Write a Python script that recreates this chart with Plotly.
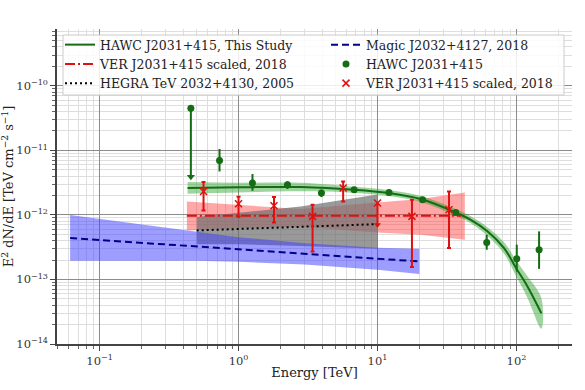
import plotly.graph_objects as go
import numpy as np

# ---------------- data ----------------
# HAWC J2031+415 fit line and uncertainty band
hawc_fit_e = [0.43, 1.0, 2.8, 6.8, 12.1, 20.5, 36.5, 46.9, 61.8, 81.4, 100, 120, 151]
hawc_fit_f = [2.61e-12, 2.68e-12, 2.70e-12, 2.46e-12, 2.18e-12, 1.76e-12, 1.09e-12,
              8.4e-13, 5.6e-13, 3.07e-13, 1.47e-13, 7.8e-14, 3.0e-14]
hawc_band_hi = [3.23e-12, 3.16e-12, 3.15e-12, 2.73e-12, 2.43e-12, 1.96e-12, 1.23e-12,
                9.5e-13, 6.47e-13, 3.78e-13, 1.95e-13, 1.12e-13, 5.17e-14]
hawc_band_lo = [2.13e-12, 2.22e-12, 2.33e-12, 2.21e-12, 1.96e-12, 1.58e-12, 9.7e-13,
                7.44e-13, 4.77e-13, 2.51e-13, 1.10e-13, 5.17e-14, 1.73e-14]

# HAWC flux points
hawc_e = [0.73, 1.26, 2.25, 3.95, 6.79, 12.1, 21.1, 36.6, 61.1, 100.5, 145.5]
hawc_f = [6.98e-12, 3.12e-12, 2.93e-12, 2.18e-12, 2.46e-12, 2.23e-12, 1.72e-12,
          1.09e-12, 3.75e-13, 2.1e-13, 2.89e-13]
hawc_hi = [1.05e-11, 4.3e-12, 3.3e-12, 2.46e-12, 2.6e-12, 2.35e-12, 1.82e-12,
           1.15e-12, 4.93e-13, 3.46e-13, 5.56e-13]
hawc_lo = [4.72e-12, 2.37e-12, 2.52e-12, 1.89e-12, 2.33e-12, 2.11e-12, 1.62e-12,
           1.03e-12, 2.89e-13, 1.33e-13, 1.46e-13]
# HAWC upper limit
hawc_ul_e = [0.454]
hawc_ul_f = [4.5e-11]
hawc_ul_to = [3.9e-12]

# VER J2031+415 scaled, 2018
ver_e = [0.56, 1.0, 1.80, 3.41, 5.66, 17.7, 32.7]
ver_f = [2.31e-12, 1.49e-12, 1.39e-12, 9.5e-13, 2.61e-12, 9.5e-13, 1.2e-12]
ver_hi = [3.23e-12, 1.91e-12, 1.9e-12, 1.44e-12, 3.3e-12, 1.72e-12, 2.31e-12]
ver_lo = [1.17e-12, 9.4e-13, 7.66e-13, 2.72e-13, 1.62e-12, 1.56e-13, 3.07e-13]
ver_ul_e = [10.0]
ver_ul_f = [1.53e-12]
ver_ul_to = [7.05e-13]
ver_line_e = [0.425, 40.0]
ver_line_f = [9.7e-13, 9.7e-13]
ver_band_e = [0.425, 1.0, 2.8, 10.0, 20.5, 42.5]
ver_band_hi = [1.62e-12, 1.43e-12, 1.23e-12, 1.56e-12, 1.76e-12, 2.23e-12]
ver_band_lo = [5.75e-13, 6.2e-13, 6.56e-13, 5.36e-13, 4.93e-13, 4.13e-13]

# HEGRA TeV 2032+4130, 2005
hegra_line_e = [0.5, 10.0]
hegra_line_f = [5.75e-13, 7.2e-13]
hegra_band_e = [0.5, 1.0, 2.8, 10.0]
hegra_band_hi = [9.3e-13, 1.08e-12, 1.35e-12, 2.07e-12]
hegra_band_lo = [3.5e-13, 3.5e-13, 3.3e-13, 3.0e-13]

# Magic J2032+4127, 2018
magic_line_e = [0.0614, 20.0]
magic_line_f = [4.39e-13, 1.9e-13]
magic_band_e = [0.0614, 0.5, 1.0, 3.0, 10.0, 20.0]
magic_band_hi = [1.0e-12, 5.4e-13, 4.52e-13, 3.65e-13, 3.1e-13, 3.0e-13]
magic_band_lo = [1.95e-13, 1.95e-13, 1.88e-13, 1.7e-13, 1.42e-13, 1.22e-13]

# ticks
x_tickvals = [0.1, 1, 10, 100]
x_ticktext = ["10<sup>−1</sup>", "10<sup>0</sup>", "10<sup>1</sup>", "10<sup>2</sup>"]
y_tickvals = [1e-14, 1e-13, 1e-12, 1e-11, 1e-10]
y_ticktext = ["10<sup>−14</sup>", "10<sup>−13</sup>", "10<sup>−12</sup>",
              "10<sup>−11</sup>", "10<sup>−10</sup>"]

# ---------------- styling ----------------
FONT = "DejaVu Serif"
GREEN = "#146c14"
RED = "#e01010"
BLUE = "#00008b"


def band(e, hi, lo, fill, shape="linear"):
    xs = list(e) + list(e)[::-1]
    ys = list(hi) + list(lo)[::-1]
    return go.Scatter(x=xs, y=ys, mode="lines", fill="toself", fillcolor=fill,
                      line=dict(width=0, shape=shape), hoverinfo="skip", showlegend=False)


fig = go.Figure()

# bands
fig.add_trace(band(ver_band_e, ver_band_hi, ver_band_lo, "rgba(255,60,60,0.45)"))
fig.add_trace(band(hegra_band_e, hegra_band_hi, hegra_band_lo, "rgba(110,110,110,0.7)"))
fig.add_trace(band(magic_band_e, magic_band_hi, magic_band_lo, "rgba(60,60,255,0.5)"))
fig.add_trace(band(hawc_fit_e, hawc_band_hi, hawc_band_lo, "rgba(40,160,40,0.45)", "spline"))

# lines
fig.add_trace(go.Scatter(x=hawc_fit_e, y=hawc_fit_f, mode="lines",
                         line=dict(color=GREEN, width=2, shape="spline"),
                         name="HAWC J2031+415, This Study", legend="legend", legendrank=1))
fig.add_trace(go.Scatter(x=ver_line_e, y=ver_line_f, mode="lines",
                         line=dict(color=RED, width=2, dash="10px,3px,2px,3px"),
                         name="VER J2031+415 scaled, 2018", legend="legend", legendrank=2))
fig.add_trace(go.Scatter(x=hegra_line_e, y=hegra_line_f, mode="lines",
                         line=dict(color="black", width=2, dash="2px,3px"),
                         name="HEGRA TeV 2032+4130, 2005", legend="legend", legendrank=3))
fig.add_trace(go.Scatter(x=magic_line_e, y=magic_line_f, mode="lines",
                         line=dict(color=BLUE, width=2, dash="7px,4px"),
                         name="Magic J2032+4127, 2018", legend="legend2", legendrank=4))

# HAWC points
fig.add_trace(go.Scatter(
    x=hawc_e, y=hawc_f, mode="markers",
    marker=dict(color=GREEN, size=7, symbol="circle"),
    error_y=dict(type="data", symmetric=False,
                 array=[h - f for h, f in zip(hawc_hi, hawc_f)],
                 arrayminus=[f - l for f, l in zip(hawc_f, hawc_lo)],
                 color=GREEN, thickness=2, width=0),
    name="HAWC J2031+415", legend="legend2", legendrank=5))
# HAWC upper limit
fig.add_trace(go.Scatter(
    x=hawc_ul_e, y=hawc_ul_f, mode="markers",
    marker=dict(color=GREEN, size=7, symbol="circle"),
    error_y=dict(type="data", symmetric=False, array=[0],
                 arrayminus=[f - t for f, t in zip(hawc_ul_f, hawc_ul_to)],
                 color=GREEN, thickness=2, width=0),
    showlegend=False))
fig.add_trace(go.Scatter(
    x=hawc_ul_e, y=hawc_ul_to, mode="markers",
    marker=dict(color=GREEN, size=7, symbol="triangle-down"),
    showlegend=False))

# VER points
fig.add_trace(go.Scatter(
    x=ver_e, y=ver_f, mode="markers",
    marker=dict(color=RED, size=7, symbol="x-thin-open", line=dict(color=RED, width=1.5)),
    error_y=dict(type="data", symmetric=False,
                 array=[h - f for h, f in zip(ver_hi, ver_f)],
                 arrayminus=[f - l for f, l in zip(ver_f, ver_lo)],
                 color=RED, thickness=2, width=2),
    name="VER J2031+415 scaled, 2018", legend="legend2", legendrank=6))
fig.add_trace(go.Scatter(
    x=ver_ul_e, y=ver_ul_f, mode="markers",
    marker=dict(color=RED, size=7, symbol="x-thin-open", line=dict(color=RED, width=1.5)),
    error_y=dict(type="data", symmetric=False, array=[0],
                 arrayminus=[f - t for f, t in zip(ver_ul_f, ver_ul_to)],
                 color=RED, thickness=2, width=0),
    showlegend=False))
fig.add_trace(go.Scatter(
    x=ver_ul_e, y=ver_ul_to, mode="markers",
    marker=dict(color=RED, size=6, symbol="triangle-down"),
    showlegend=False))

# minor tick positions (axis decoration)
x_minor = [k * 10.0 ** n for n in range(-2, 3) for k in range(2, 10)]
y_minor = [k * 10.0 ** n for n in range(-15, -9) for k in range(2, 10)]

L, R, T, B = 57, 13, 29, 46
W, H = 585, 390
pw, ph = W - L - R, H - T - B


def px(xp):
    return (xp - L) / pw


def py(yp):
    return 1 - (yp - T) / ph


fig.update_layout(
    width=W, height=H,
    margin=dict(l=L, r=R, t=T, b=B, autoexpand=False),
    paper_bgcolor="white", plot_bgcolor="white",
    font=dict(family=FONT, size=12, color="#222"),
    showlegend=True,
    legend=dict(x=px(60), y=py(30), xanchor="left", yanchor="top",
                bgcolor="rgba(0,0,0,0)", borderwidth=0,
                font=dict(family=FONT, size=12.5, color="#222"),
                tracegroupgap=0),
    legend2=dict(x=px(326), y=py(30), xanchor="left", yanchor="top",
                 bgcolor="rgba(0,0,0,0)", borderwidth=0,
                 font=dict(family=FONT, size=12.5, color="#222"),
                 tracegroupgap=0),
    shapes=[dict(type="rect", xref="paper", yref="paper",
                 x0=px(63), x1=px(564), y0=py(95), y1=py(35),
                 fillcolor="rgba(255,255,255,0.85)",
                 line=dict(color="#cccccc", width=1), layer="above")],
)

fig.update_xaxes(
    type="log", range=[np.log10(0.0494), np.log10(251)], automargin=False,
    tickmode="array", tickvals=x_tickvals, ticktext=x_ticktext,
    showgrid=True, gridcolor="#8c8c8c", gridwidth=1,
    showline=True, linecolor="#444", linewidth=1.5,
    ticks="outside", ticklen=5, tickcolor="#444",
    tickfont=dict(family=FONT, size=11.5, color="#333"),
    minor=dict(tickmode="array", tickvals=x_minor, showgrid=True,
               gridcolor="#dedede", gridwidth=1, ticks="outside", ticklen=3, tickcolor="#666"),
    title=dict(text="Energy [TeV]", font=dict(family=FONT, size=13, color="#222"), standoff=1),
    zeroline=False,
)
fig.update_yaxes(
    type="log", range=[-14, np.log10(7.6e-10)], automargin=False,
    tickmode="array", tickvals=y_tickvals, ticktext=y_ticktext,
    showgrid=True, gridcolor="#8c8c8c", gridwidth=1,
    showline=True, linecolor="#444", linewidth=1.5,
    ticks="outside", ticklen=5, tickcolor="#444",
    tickfont=dict(family=FONT, size=11.5, color="#333"),
    minor=dict(tickmode="array", tickvals=y_minor, showgrid=True,
               gridcolor="#dedede", gridwidth=1, ticks="outside", ticklen=3, tickcolor="#666"),
    title=dict(text="E<sup>2</sup> dN/dE [TeV cm<sup>−2</sup> s<sup>−1</sup>]",
               font=dict(family=FONT, size=13, color="#222"), standoff=2),
    zeroline=False,
)

fig.write_html("out.html", config={"displayModeBar": False},
               post_script="document.body.style.margin='0px';")
